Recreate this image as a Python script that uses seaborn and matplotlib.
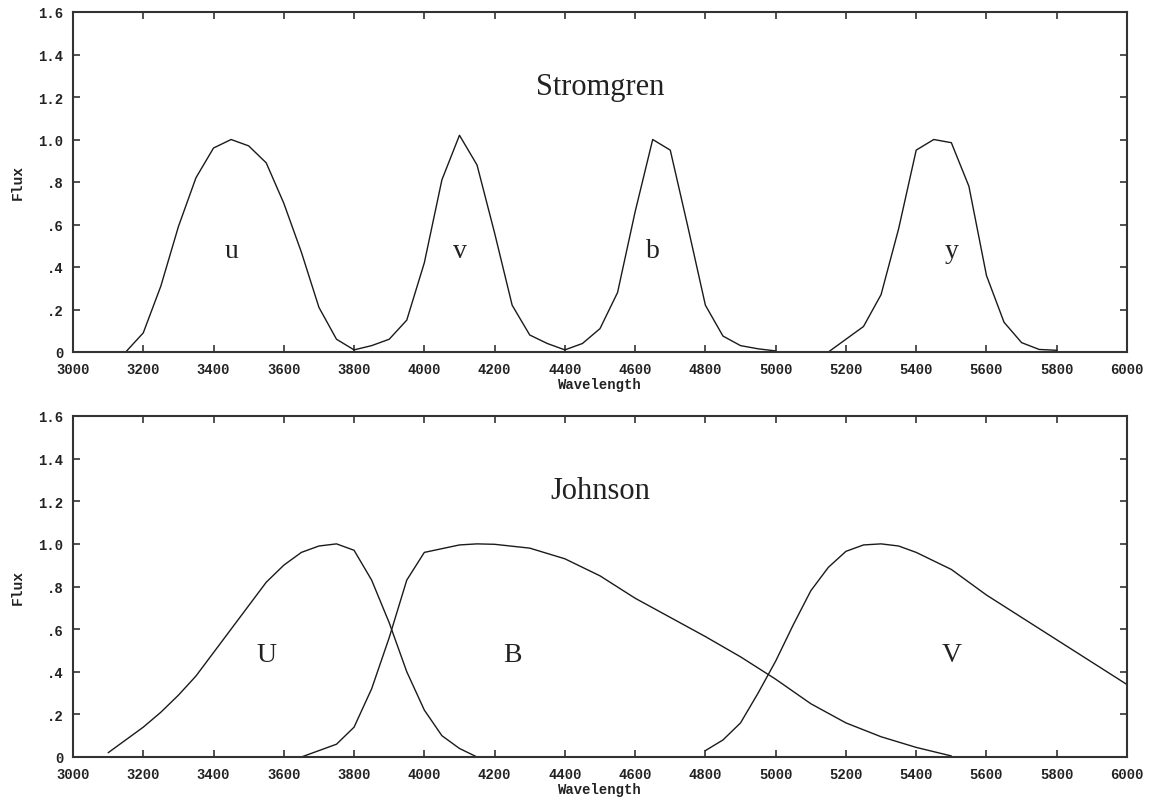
import matplotlib
matplotlib.use("Agg")
import matplotlib.pyplot as plt
import seaborn as sns
import numpy as np
import pandas as pd

# ---------------- data ----------------
u_wl = [3150, 3200, 3250, 3300, 3350, 3400, 3450, 3500, 3550, 3600, 3650, 3700, 3750, 3800]
u_fx = [0.0, 0.09, 0.31, 0.59, 0.82, 0.96, 1.0, 0.97, 0.89, 0.70, 0.47, 0.21, 0.06, 0.01]

v_wl = [3800, 3850, 3900, 3950, 4000, 4050, 4100, 4150, 4200, 4250, 4300, 4350, 4400]
v_fx = [0.01, 0.03, 0.06, 0.15, 0.42, 0.81, 1.02, 0.88, 0.56, 0.22, 0.08, 0.04, 0.01]

b_wl = [4400, 4450, 4500, 4550, 4600, 4650, 4700, 4750, 4800, 4850, 4900, 4950, 5000]
b_fx = [0.01, 0.04, 0.11, 0.28, 0.66, 1.0, 0.95, 0.59, 0.22, 0.075, 0.03, 0.015, 0.005]

y_wl = [5150, 5200, 5250, 5300, 5350, 5400, 5450, 5500, 5550, 5600, 5650, 5700, 5750, 5800]
y_fx = [0.0, 0.06, 0.12, 0.27, 0.58, 0.95, 1.0, 0.985, 0.78, 0.36, 0.14, 0.044, 0.012, 0.008]

U_wl = [3100, 3150, 3200, 3250, 3300, 3350, 3400, 3450, 3500, 3550, 3600, 3650, 3700,
        3750, 3800, 3850, 3900, 3950, 4000, 4050, 4100, 4150]
U_fx = [0.02, 0.08, 0.14, 0.21, 0.29, 0.38, 0.49, 0.60, 0.71, 0.82, 0.90, 0.96, 0.99,
        1.0, 0.97, 0.83, 0.63, 0.40, 0.22, 0.10, 0.04, 0.0]

B_wl = [3650, 3700, 3750, 3800, 3850, 3900, 3950, 4000, 4100, 4150, 4200, 4300, 4400,
        4500, 4600, 4700, 4800, 4900, 5000, 5100, 5200, 5300, 5400, 5500]
B_fx = [0.0, 0.03, 0.06, 0.14, 0.32, 0.56, 0.83, 0.96, 0.995, 1.0, 0.998, 0.98, 0.93,
        0.85, 0.745, 0.655, 0.565, 0.47, 0.365, 0.25, 0.16, 0.095, 0.045, 0.005]

V_wl = [4800, 4850, 4900, 4950, 5000, 5050, 5100, 5150, 5200, 5250, 5300, 5350, 5400,
        5500, 5600, 5700, 5800, 5900, 6000]
V_fx = [0.03, 0.08, 0.16, 0.30, 0.45, 0.62, 0.78, 0.89, 0.965, 0.995, 1.0, 0.99, 0.96,
        0.88, 0.76, 0.655, 0.55, 0.445, 0.34]

x_ticks = [3000, 3200, 3400, 3600, 3800, 4000, 4200, 4400, 4600, 4800,
           5000, 5200, 5400, 5600, 5800, 6000]
y_ticks = [0, 0.2, 0.4, 0.6, 0.8, 1.0, 1.2, 1.4, 1.6]
y_tick_labels = ["0", ".2", ".4", ".6", ".8", "1.0", "1.2", "1.4", "1.6"]

strom_names = ["u", "v", "b", "y"]
strom_label_pos = [(3450, 0.48), (4100, 0.48), (4650, 0.48), (5500, 0.48)]
john_names = ["U", "B", "V"]
john_label_pos = [(3550, 0.48), (4250, 0.48), (5500, 0.48)]
titles = ["Stromgren", "Johnson"]

# ---------------- plot ----------------
sns.set_theme(style="ticks")
plt.rcParams["font.family"] = ["DejaVu Sans"]

fig = plt.figure(figsize=(11.55, 8.03), dpi=100)
fig.patch.set_facecolor("white")
ax1 = fig.add_axes([73 / 1155, 1 - 353 / 803, 1054 / 1155, 340 / 803])
ax2 = fig.add_axes([73 / 1155, 1 - 758 / 803, 1054 / 1155, 341 / 803])

line_kw = dict(color="#1a1a1a", linewidth=1.0, estimator=None, sort=False)

strom = [(u_wl, u_fx), (v_wl, v_fx), (b_wl, b_fx), (y_wl, y_fx)]
john = [(U_wl, U_fx), (B_wl, B_fx), (V_wl, V_fx)]

for wl, fx in strom:
    sns.lineplot(x=wl, y=fx, ax=ax1, **line_kw)
for wl, fx in john:
    sns.lineplot(x=wl, y=fx, ax=ax2, **line_kw)

mono = ["Liberation Mono", "DejaVu Sans Mono"]
serif = ["Liberation Serif", "DejaVu Serif"]

for ax, title, names, poss in [(ax1, titles[0], strom_names, strom_label_pos),
                               (ax2, titles[1], john_names, john_label_pos)]:
    ax.set_xlim(3000, 6000)
    ax.set_ylim(0, 1.6)
    ax.set_xticks(x_ticks)
    ax.set_yticks(y_ticks)
    ax.set_yticklabels(y_tick_labels)
    ax.tick_params(direction="in", length=5, width=1.2, color="#333333",
                   top=True, right=True, labelsize=10, pad=7, labelcolor="#222222")
    for lab in ax.get_xticklabels() + ax.get_yticklabels():
        lab.set_family(mono)
        lab.set_fontweight("bold")
    for sp in ax.spines.values():
        sp.set_visible(True)
        sp.set_linewidth(1.5)
        sp.set_color("#333333")
    ax.set_xlabel("Wavelength", family=mono, fontweight="bold", fontsize=10,
                  labelpad=1, color="#222222")
    ax.set_ylabel("Flux", family=mono, fontweight="bold", fontsize=10.5,
                  labelpad=10, color="#222222")
    ax.text(4500, 1.25, title, family=serif, fontsize=22, ha="center", va="center",
            color="#222222")
    for name, (px, py) in zip(names, poss):
        ax.text(px, py, name, family=serif, fontsize=20, ha="center", va="center",
                color="#222222")
    ax.grid(False)
    ax.set_facecolor("white")

fig.savefig("out.png", dpi=100, facecolor="white")
